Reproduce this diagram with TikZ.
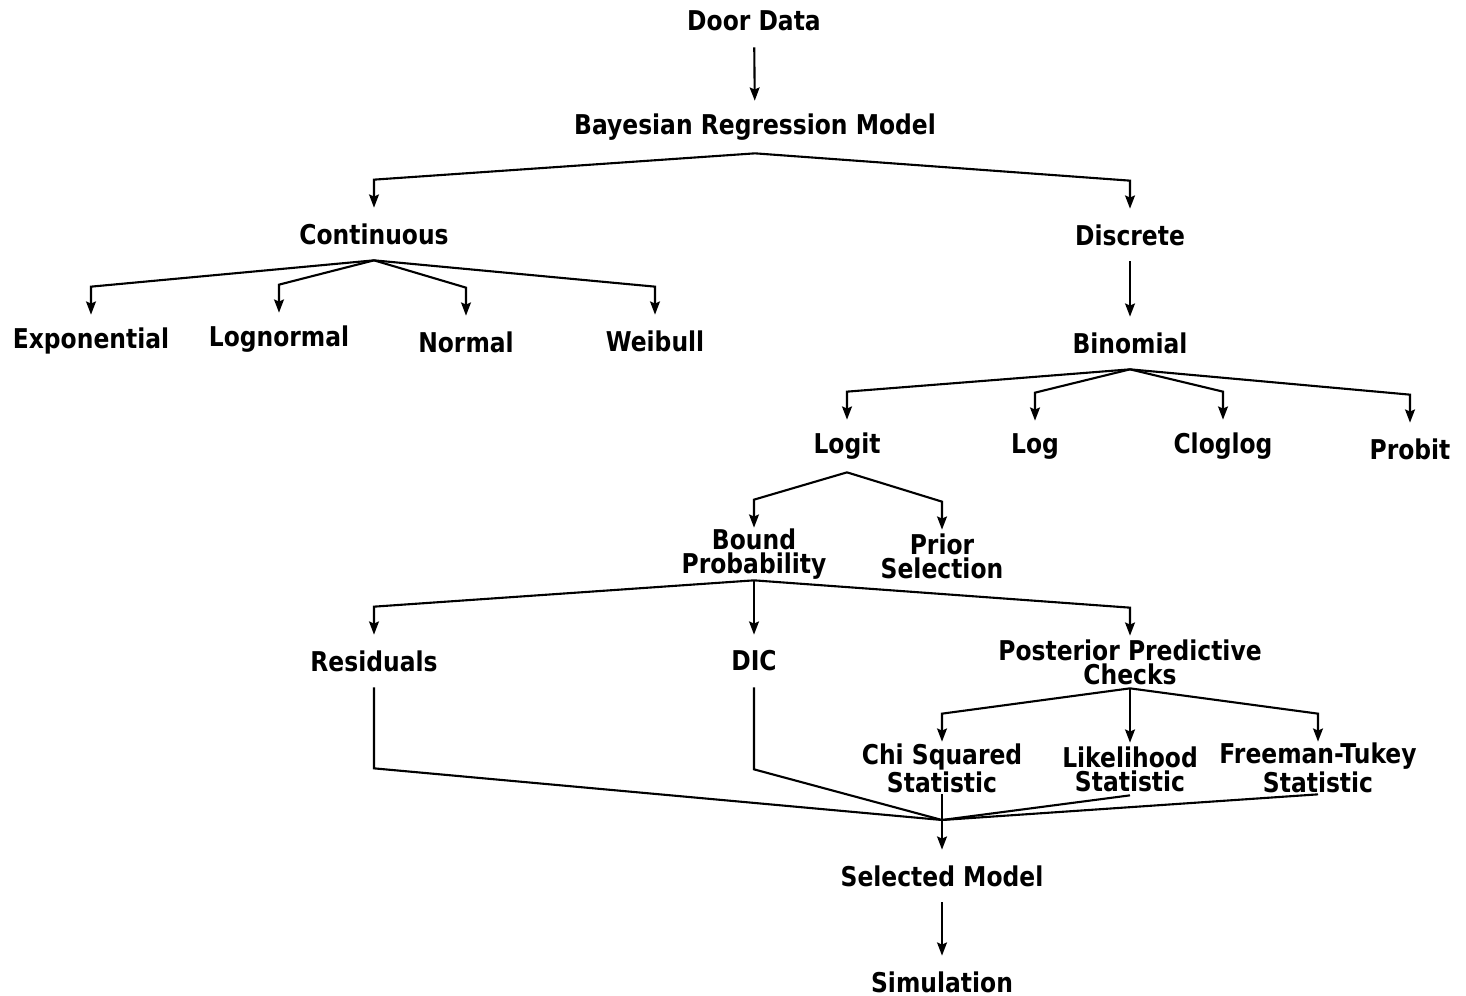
\documentclass[tikz,border=0pt]{standalone}
\usepackage{fontspec}
\setmainfont{DejaVu Sans}[FakeStretch=0.86]
\usetikzlibrary{arrows.meta, calc}

\begin{document}
\begin{tikzpicture}[
    x=0.02cm, y=-0.02cm,
    term/.style={inner sep=0pt, minimum height=1.04cm, align=center, font=\fontsize{15.5}{13.5}\selectfont\bfseries},
    line/.style={draw, line width=1.2pt, -{Stealth[length=7.5pt, width=5.6pt, inset=1.2pt]}},
    mergeline/.style={draw, line width=1.2pt}
]
\useasboundingbox (0,0) rectangle (1466,996);

% top of the tree
\node [term] (door) at (754,21) {Door Data};
\node [term] (bayes) at (755,127) {Bayesian Regression Model};
\node [term] (cont) at (374,234) {Continuous};
\node [term] (disc) at (1130,235) {Discrete};

% continuous family
\node [term] (expo) at (91,341) {Exponential};
\node [term] (lognorm) at (279,339) {Lognormal};
\node [term] (norm) at (466,342) {Normal};
\node [term] (weib) at (655,341) {Weibull};

% discrete family
\node [term] (binom) at (1130,343) {Binomial};
\node [term] (logit) at (847,446) {Logit};
\node [term] (logl) at (1035,447) {Log};
\node [term] (cloglog) at (1223,446) {Cloglog};
\node [term] (probit) at (1410,449) {Probit};

% logit checks
\node [term] (bound) at (754,554) {Bound\\Probability};
\node [term] (prior) at (942,556) {Prior\\Selection};
\node [term] (resid) at (374,661) {Residuals};
\node [term] (dic) at (754,661) {DIC};
\node [term] (ppc) at (1130,662) {Posterior Predictive\\Checks};
\node [term] (chisq) at (942,768) {Chi Squared\\Statistic};
\node [term] (lik) at (1130,769) {Likelihood\\Statistic};
\node [term] (ftukey) at (1318,768) {Freeman-Tukey\\Statistic};

% result
\coordinate (merge) at (942,820);
\node [term] (select) at (942,876) {Selected Model};
\node [term] (sim) at (942,982) {Simulation};

\path [line] (door) -- (bayes);
\path [line] (bayes.south) -- ($(cont.north)+(0,-28)$) -- (cont.north);
\path [line] (bayes.south) -- ($(disc.north)+(0,-28)$) -- (disc.north);

\foreach \leaf in {expo, lognorm, norm, weib}
    \path [line] (cont.south) -- ($(\leaf.north)+(0,-28)$) -- (\leaf.north);
\path [line] (disc) -- (binom);
\foreach \leaf in {logit, logl, cloglog, probit}
    \path [line] (binom.south) -- ($(\leaf.north)+(0,-28)$) -- (\leaf.north);

\path [line] (logit.south) -- ($(bound.north)+(0,-28)$) -- (bound.north);
\path [line] (logit.south) -- ($(prior.north)+(0,-28)$) -- (prior.north);

\foreach \leaf in {resid, dic, ppc}
    \path [line] (bound.south) -- ($(\leaf.north)+(0,-28)$) -- (\leaf.north);
\foreach \leaf in {chisq, lik, ftukey}
    \path [line] (ppc.south) -- ($(\leaf.north)+(0,-28)$) -- (\leaf.north);

\path [mergeline] (resid.south) -- ($(resid.south)+(0,81)$) -- (merge);
\path [mergeline] (dic.south) -- ($(dic.south)+(0,82)$) -- (merge);
\foreach \leaf in {chisq, lik, ftukey}
    \path [mergeline] (\leaf.south) -- (merge);
\path [line] (merge) -- (select.north);
\path [line] (select) -- (sim);

\end{tikzpicture}
\end{document}
